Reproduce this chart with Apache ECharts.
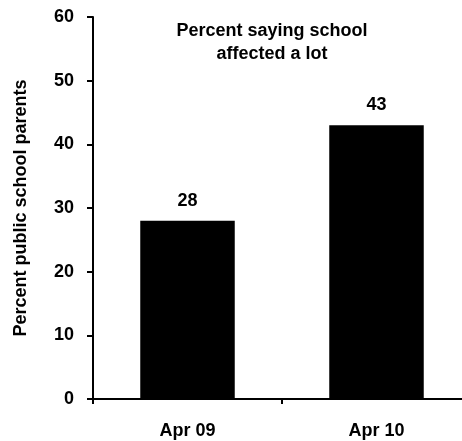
<!DOCTYPE html>
<html>
<head>
<meta charset="utf-8">
<script src="https://cdn.jsdelivr.net/npm/echarts@6/dist/echarts.min.js"></script>
<style>
  html, body { margin: 0; padding: 0; background: #fff; }
  #chart { width: 462px; height: 441px; }
</style>
</head>
<body>
<div id="chart"></div>
<script>
// Share of public school parents saying school was affected a lot
const categories = ['Apr 09', 'Apr 10'];
const values = [28, 43];
const yTicks = [0, 10, 20, 30, 40, 50, 60];

const chart = echarts.init(document.getElementById('chart'), null, { renderer: 'canvas' });

const boldFont = '"Liberation Sans", Arial, sans-serif';

chart.setOption({
  animation: false,
  backgroundColor: '#ffffff',
  title: {
    text: 'Percent saying school\naffected a lot',
    left: 267,
    top: 15,
    textAlign: 'center',
    textStyle: {
      fontFamily: boldFont,
      fontWeight: 'bold',
      fontSize: 18,
      lineHeight: 23,
      color: '#000'
    }
  },
  grid: {
    left: 93,
    top: 17,
    width: 378,
    bottom: 42,
    containLabel: false,
    outerBoundsMode: 'none'
  },
  xAxis: {
    type: 'category',
    data: categories,
    axisLine: { show: true, lineStyle: { color: '#000', width: 2 } },
    axisTick: { show: true, alignWithLabel: false, length: 5, lineStyle: { color: '#000', width: 2 } },
    axisLabel: {
      margin: 23,
      fontFamily: boldFont,
      fontWeight: 'bold',
      fontSize: 18,
      color: '#000'
    }
  },
  yAxis: {
    type: 'value',
    min: yTicks[0],
    max: yTicks[yTicks.length - 1],
    interval: 10,
    name: 'Percent public school parents',
    nameLocation: 'middle',
    nameGap: 63,
    nameRotate: 90,
    nameTextStyle: {
      fontFamily: boldFont,
      fontWeight: 'bold',
      fontSize: 18,
      color: '#000'
    },
    axisLine: { show: true, lineStyle: { color: '#000', width: 2 } },
    axisTick: { show: true, length: 6, lineStyle: { color: '#000', width: 2 } },
    splitLine: { show: false },
    axisLabel: {
      margin: 19,
      fontFamily: boldFont,
      fontWeight: 'bold',
      fontSize: 18,
      color: '#000'
    }
  },
  series: [{
    type: 'bar',
    data: values,
    barWidth: '50%',
    itemStyle: { color: '#000' },
    label: {
      show: true,
      position: 'top',
      distance: 11,
      fontFamily: boldFont,
      fontWeight: 'bold',
      fontSize: 18,
      color: '#000'
    }
  }]
});
</script>
</body>
</html>
